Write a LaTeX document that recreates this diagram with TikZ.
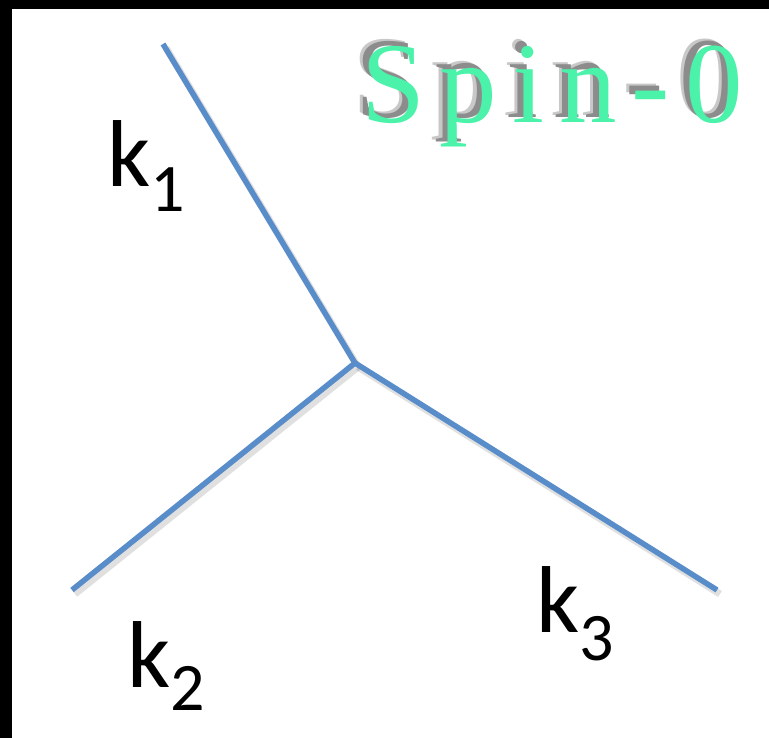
\documentclass[tikz,border=0pt]{standalone}
\usepackage{fontspec}
\setmainfont{Carlito}
\newfontfamily\spinfont[LetterSpace=13]{Liberation Serif}
\definecolor{linecol}{RGB}{88,141,202}
\definecolor{spingreen}{RGB}{75,242,170}
\definecolor{shadowlight}{RGB}{200,200,200}
\definecolor{shadowdark}{RGB}{140,140,140}
\begin{document}
\begin{tikzpicture}[x=1pt,y=-1pt,
  leg/.style={line width=5.5pt,draw=linecol,line cap=butt},
  legshadow/.style={line width=7pt,draw=black,opacity=0.12},
  klabel/.style={inner sep=0pt,anchor=base west,font=\fontsize{95}{95}\selectfont},
  spin/.style={inner sep=0pt,anchor=base west,font=\spinfont\fontsize{115}{115}\selectfont}]
\useasboundingbox (0,0) rectangle (769,738);
\fill[black] (0,0) rectangle (769,738);
\fill[white] (12,9) rectangle (769,738);
% vertex and ends
\coordinate (v) at (355,363);
\coordinate (e1) at (163,44);
\coordinate (e2) at (72,590);
\coordinate (e3) at (717,590);
\coordinate (sv) at (358,367);
\coordinate (s1) at (166,48);
\coordinate (s2) at (75,594);
\coordinate (s3) at (720,594);
% shadows of the legs
\draw[legshadow] (s1) -- (sv) -- (s2);
\draw[legshadow] (sv) -- (s3);
% legs
\draw[leg] (e1) -- (v);
\draw[leg] (e2) -- (v);
\draw[leg] (v) -- (e3);
% labels
\node[klabel] (k1) at (107,187) {k\raisebox{-25pt}{\fontsize{68}{68}\selectfont 1}};
\node[klabel] (k2) at (127,687) {k\raisebox{-23pt}{\fontsize{68}{68}\selectfont 2}};
\node[klabel] (k3) at (536,632) {k\raisebox{-28pt}{\fontsize{68}{68}\selectfont 3}};
% Spin-0 title with soft shadow, one node
\node[spin] (title) at (361,123) {%
  \rlap{\hspace{-9pt}\raisebox{7pt}{\color{shadowlight}Spin-0}}%
  \rlap{\hspace{-6pt}\raisebox{5pt}{\color{shadowdark}Spin-0}}%
  \color{spingreen}Spin-0};
\end{tikzpicture}
\end{document}
